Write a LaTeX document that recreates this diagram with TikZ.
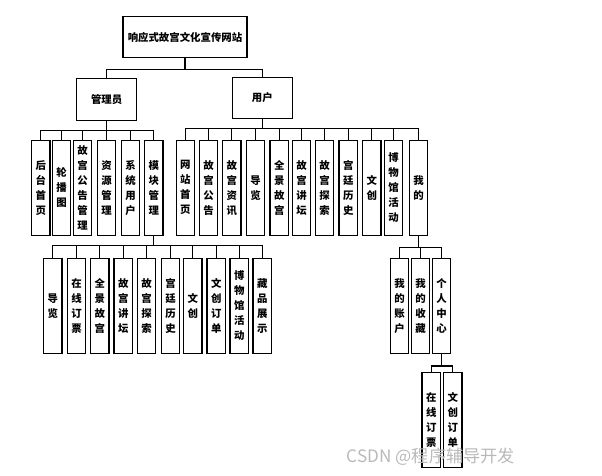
\documentclass[tikz,border=0pt]{standalone}
\usepackage{fontspec}
\setmainfont{Noto Sans CJK SC}
\usetikzlibrary{positioning}

\begin{document}
\begin{tikzpicture}[x=0.025cm,y=-0.025cm,
  box/.style={draw,line width=0.8pt,inner sep=0pt,font=\bfseries\fontsize{7.4}{10.7}\selectfont},
  col/.style={box,minimum width=0.46cm,minimum height=2.38cm,align=center},
  wire/.style={line width=0.8pt}]
  \useasboundingbox (0,0) rectangle (602,475);
  % --- koren a dve role ---
  \node[box,minimum width=3.1cm,minimum height=1.03cm] (root) at (185,37.3) {响应式故宫文化宣传网站};
  \node[box,minimum width=1.5cm,minimum height=1.03cm] (adm) at (106.7,99.5) {管理员};
  \node[box,minimum width=1.5cm,minimum height=1.03cm] (usr) at (262.3,97.7) {用户};
  \draw[wire] (root.south) -- ++(0,11) -| (adm.north);
  \draw[wire] (root.south) -- ++(0,11) -| (usr.north);
  % --- manager ---
  \foreach \x/\t [count=\i] in {40.8/后\\台\\首\\页, 61.5/轮\\播\\图, 82.5/故\\宫\\公\\告\\管\\理,
      106.5/资\\源\\管\\理, 130.5/系\\统\\用\\户, 153.8/模\\块\\管\\理}
    \node[col] (a\i) at (\x,187.7) {\t};
  \foreach \i in {1,...,6}
    \draw[wire] (adm.south) -- ++(0,10) -| (a\i.north);
  % --- uzivatel ---
  \foreach \x/\t [count=\i] in {185.3/网\\站\\首\\页, 208.5/故\\宫\\公\\告, 231.8/故\\宫\\资\\讯,
      255.5/导\\览, 279.2/全\\景\\故\\宫, 301.5/故\\宫\\讲\\坛, 324.5/故\\宫\\探\\索,
      348.2/宫\\廷\\历\\史, 371.8/文\\创, 393.5/博\\物\\馆\\活\\动, 418.5/我\\的}
    \node[col] (u\i) at (\x,187.7) {\t};
  \foreach \i in {1,...,11}
    \draw[wire] (usr.south) -- ++(0,10) -| (u\i.north);
  % --- modul management ---
  \foreach \x/\t [count=\i] in {52.8/导\\览, 76.5/在\\线\\订\\票, 99.8/全\\景\\故\\宫,
      123.2/故\\宫\\讲\\坛, 146.5/故\\宫\\探\\索, 170.5/宫\\廷\\历\\史, 192.8/文\\创,
      216.2/文\\创\\订\\单, 239.2/博\\物\\馆\\活\\动, 262.2/藏\\品\\展\\示}
    \node[col] (m\i) at (\x,305.8) {\t};
  \foreach \i in {1,...,10}
    \draw[wire] (a6.south) -- ++(0,10) -| (m\i.north);
  % --- moje ---
  \foreach \x/\t [count=\i] in {399.5/我\\的\\账\\户, 420.5/我\\的\\收\\藏, 441.5/个\\人\\中\\心}
    \node[col] (w\i) at (\x,305.8) {\t};
  \foreach \i in {1,...,3}
    \draw[wire] (u11.south) -- ++(0,12) -| (w\i.north);
  % --- osobni centrum ---
  \node[col] (p1) at (431.2,419.8) {在\\线\\订\\票};
  \node[col] (p2) at (452.8,419.8) {文\\创\\订\\单};
  \foreach \i in {1,2}
    \draw[wire] (w3.south) -- ++(0,12) -| (p\i.north);
  \node[anchor=west,text=gray!55,font=\fontsize{12.2}{14}\selectfont] (mark) at (342,456.5) {CSDN @程序辅导开发};
\end{tikzpicture}
\end{document}
